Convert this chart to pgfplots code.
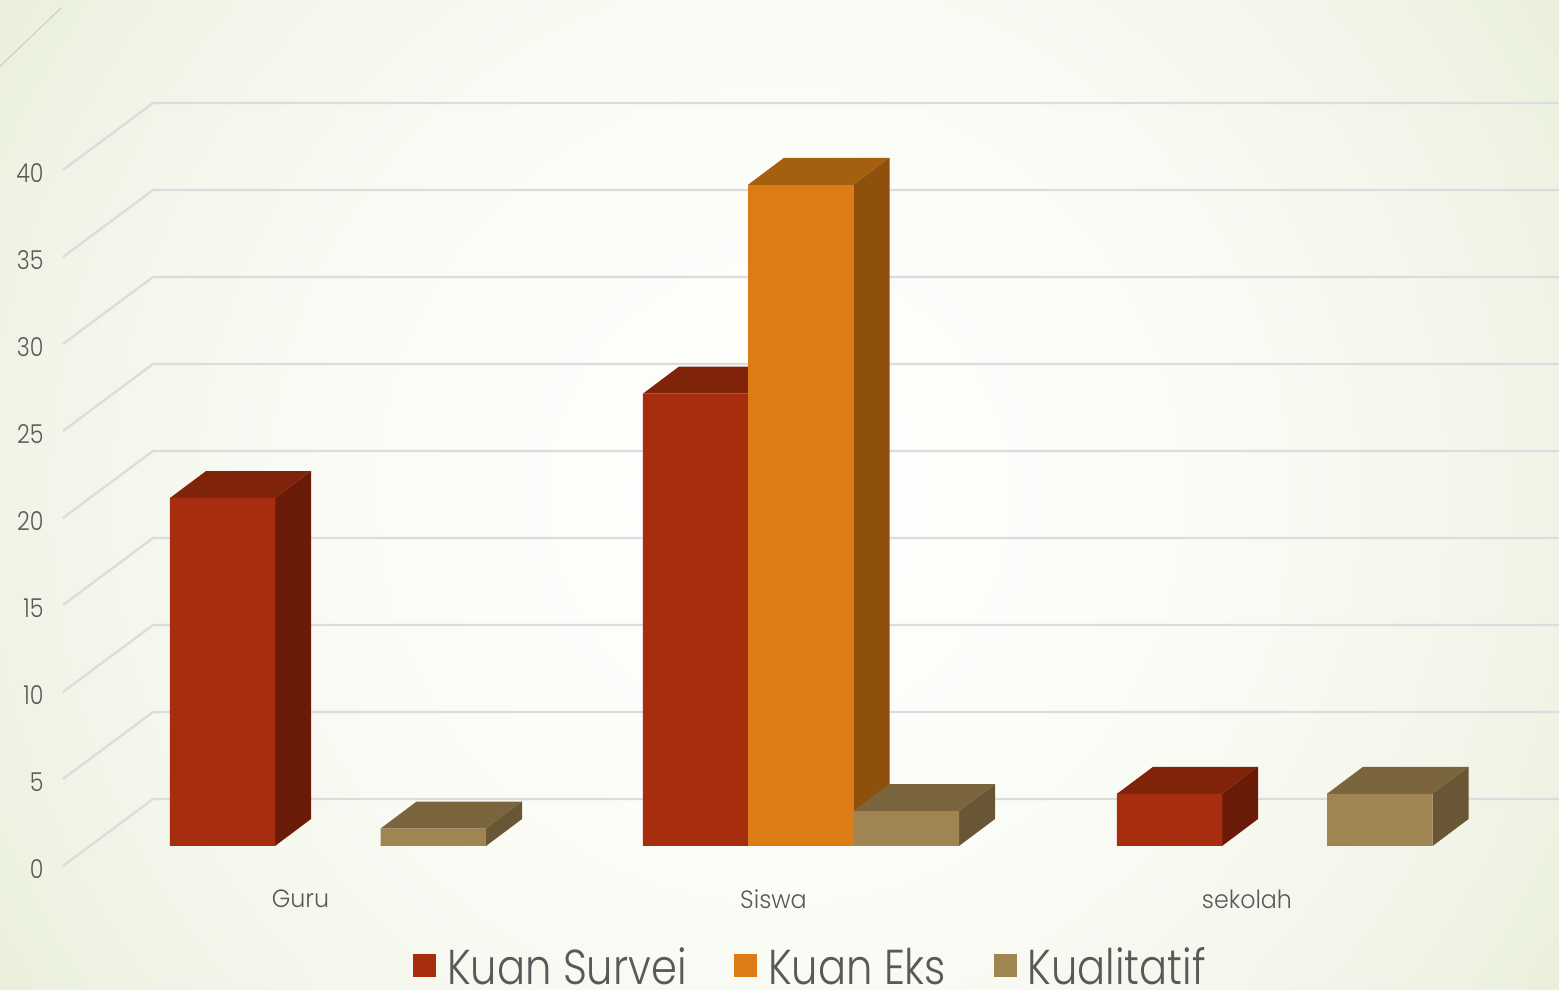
\documentclass[border=0pt]{standalone}
\usepackage{pgfplots}
\pgfplotsset{compat=1.18}
\usepackage{fontspec}
\setmainfont{Poppins}[UprightFont=* Light]
\newfontfamily\legfont{Poppins}[UprightFont=* Light,FakeStretch=0.85]
\newfontfamily\ytfont{Poppins}[UprightFont=* Light,FakeStretch=0.85]
\newfontfamily\xtfont{Poppins}[UprightFont=* Light,FakeStretch=0.95]
\definecolor{txt}{HTML}{595959}
\definecolor{gridc}{HTML}{DADCDE}
\definecolor{cornerc}{HTML}{C9CDBC}
\definecolor{redF}{HTML}{A62E0E}\definecolor{redT}{HTML}{80230B}\definecolor{redS}{HTML}{6A1B08}
\definecolor{oraF}{HTML}{DD7B16}\definecolor{oraT}{HTML}{A5600F}\definecolor{oraS}{HTML}{8D500D}
\definecolor{tanF}{HTML}{A08452}\definecolor{tanT}{HTML}{7A653F}\definecolor{tanS}{HTML}{685635}
\definecolor{bg0}{HTML}{FEFEFC}\definecolor{bg1}{HTML}{FCFDF9}\definecolor{bg2}{HTML}{F7F9F1}\definecolor{bg3}{HTML}{F0F4E6}\definecolor{bg4}{HTML}{EAF0DC}\definecolor{bg5}{HTML}{E6ECD3}\definecolor{bg6}{HTML}{E4EAD0}
\pgfdeclareradialshading{bgshade}{\pgfpointorigin}{color(0bp)=(bg0);color(10bp)=(bg1);color(18bp)=(bg2);color(25bp)=(bg3);color(29bp)=(bg4);color(35bp)=(bg5);color(50bp)=(bg6)}
\pgfplotsset{
  gl/.style={forget plot,draw=gridc,line width=2.3pt,line join=miter},
  face/.style={forget plot,fill=#1,draw=none},
  front/.style={ybar,bar width=105.5pt,bar shift=0pt,fill=#1,draw=none,
    legend image code/.code={\fill[##1] (0pt,-10.5pt) rectangle (23pt,12.5pt);\path (32pt,0pt);}},
}
\begin{document}
\begin{tikzpicture}
\useasboundingbox (0,0) rectangle (1559pt,990pt);
\begin{scope}
\clip (0,0) rectangle (1559pt,990pt);
\shade[shading=bgshade] (0,-297pt) rectangle (1559pt,1287pt);
\end{scope}
\begin{axis}[
  at={(0,0)},anchor=south west,
  scale only axis,width=1559pt,height=990pt,
  xmin=0,xmax=1559,ymin=-8.276,ymax=48.62,
  axis line style={draw=none},major tick length=0pt,
  clip=true,
  xtick={300.5,773.5,1247},xticklabels={Guru,Siswa,sekolah},
  ytick={0,5,...,40},
  /pgf/number format/assume math mode=true,
  tick label style={text=txt},
  xticklabel style={font=\xtfont\fontsize{25}{28}\selectfont,anchor=center,yshift=91pt},
  yticklabel style={font=\ytfont\fontsize{26}{28}\selectfont,anchor=east,xshift=47pt,yshift=-23pt},
  legend style={at={(axis cs:810.5,-6.95)},anchor=center,draw=none,fill=none,
    font=\legfont\fontsize{49}{54}\selectfont\color{txt},legend columns=3,
    /tikz/every even column/.append style={column sep=45.5pt}},
]
% wall and floor grid
\addplot[gl] coordinates {(63,-1.15)(153,2.70)(1559,2.70)};
\addplot[gl] coordinates {(63,3.85)(153,7.70)(1559,7.70)};
\addplot[gl] coordinates {(63,8.85)(153,12.70)(1559,12.70)};
\addplot[gl] coordinates {(63,13.85)(153,17.70)(1559,17.70)};
\addplot[gl] coordinates {(63,18.85)(153,22.70)(1559,22.70)};
\addplot[gl] coordinates {(63,23.85)(153,27.70)(1559,27.70)};
\addplot[gl] coordinates {(63,28.85)(153,32.70)(1559,32.70)};
\addplot[gl] coordinates {(63,33.85)(153,37.70)(1559,37.70)};
\addplot[gl] coordinates {(63,38.85)(153,42.70)(1559,42.70)};
\addplot[forget plot,draw=cornerc,line width=1pt] coordinates {(0,44.8)(61,48.16)};
% Kuan Survei
\addplot[face=redT] coordinates {(170,20)(275,20)(311,21.55)(206,21.55)} --cycle;
\addplot[face=redS] coordinates {(275,0)(311,1.55)(311,21.55)(275,20)} --cycle;
\addplot[face=redT] coordinates {(643,26)(748,26)(784,27.55)(679,27.55)} --cycle;
\addplot[face=redT] coordinates {(1117,3)(1222,3)(1258,4.55)(1153,4.55)} --cycle;
\addplot[face=redS] coordinates {(1222,0)(1258,1.55)(1258,4.55)(1222,3)} --cycle;
\addplot[front=redF] coordinates {(222.5,20)(695.5,26)(1169.5,3)};
\addlegendentry{Kuan Survei}
% Kuan Eks
\addplot[face=oraT] coordinates {(748,38)(853.5,38)(889.5,39.55)(784,39.55)} --cycle;
\addplot[face=oraS] coordinates {(853.5,0)(889.5,1.55)(889.5,39.55)(853.5,38)} --cycle;
\addplot[front=oraF] coordinates {(800.75,38)};
\addlegendentry{Kuan Eks}
% Kualitatif
\addplot[face=tanT] coordinates {(380.5,1)(486,1)(522,2.55)(416.5,2.55)} --cycle;
\addplot[face=tanS] coordinates {(486,0)(522,1.55)(522,2.55)(486,1)} --cycle;
\addplot[face=tanT] coordinates {(853.5,2)(959,2)(995,3.55)(889.5,3.55)} --cycle;
\addplot[face=tanS] coordinates {(959,0)(995,1.55)(995,3.55)(959,2)} --cycle;
\addplot[face=tanT] coordinates {(1327,3)(1432.5,3)(1468.5,4.55)(1363,4.55)} --cycle;
\addplot[face=tanS] coordinates {(1432.5,0)(1468.5,1.55)(1468.5,4.55)(1432.5,3)} --cycle;
\addplot[front=tanF] coordinates {(433.25,1)(906.25,2)(1379.75,3)};
\addlegendentry{Kualitatif}
\end{axis}
\end{tikzpicture}
\end{document}
